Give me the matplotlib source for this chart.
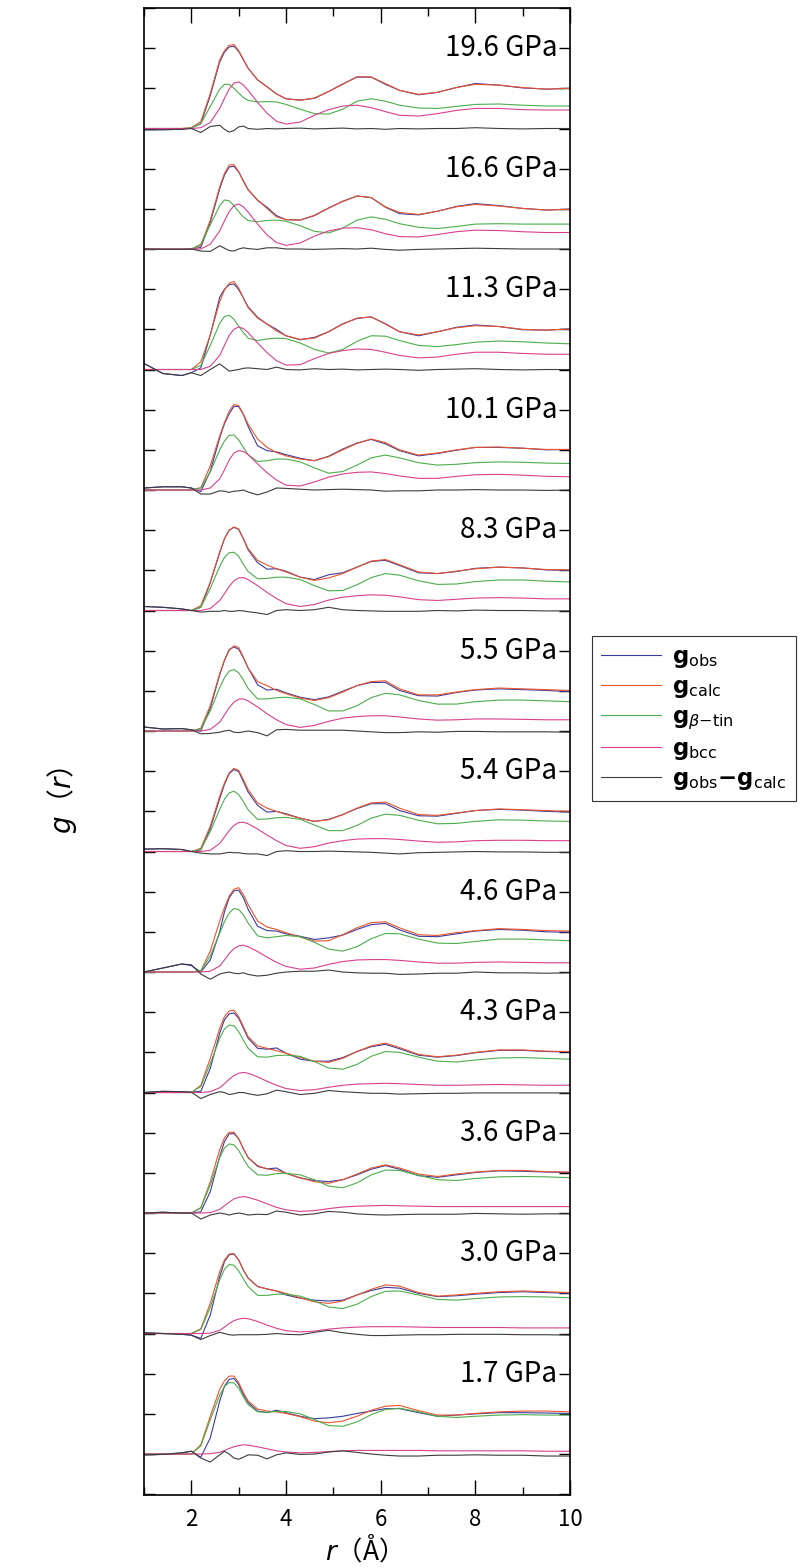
import matplotlib
matplotlib.use("Agg")
import matplotlib.pyplot as plt
from matplotlib.lines import Line2D
from matplotlib.ticker import MultipleLocator

plt.rcParams['font.family'] = ['Noto Sans CJK JP', 'DejaVu Sans']
plt.rcParams['mathtext.fontset'] = 'dejavusans'

# r grid (Å) shared by every curve
r = [1.0, 1.4, 1.8, 2.0, 2.2, 2.4, 2.6, 2.7, 2.8, 2.9, 3.0, 3.1, 3.2, 3.4, 3.6, 3.8, 4.0,
     4.3, 4.6, 4.9, 5.2, 5.5, 5.8, 6.1, 6.4, 6.8, 7.2, 7.6, 8.0, 8.5, 9.0, 9.5, 10.0]

# pressures, top panel first
pressures = ["19.6", "16.6", "11.3", "10.1", "8.3", "5.5", "5.4", "4.6", "4.3", "3.6", "3.0", "1.7"]

g_obs = [
    [-0.03, -0.03, -0.02, 0.02, 0.12, 0.82, 1.66, 1.90, 2.03, 2.05, 1.92, 1.71, 1.50, 1.21, 1.04, 0.86, 0.74, 0.71, 0.75, 0.92, 1.11, 1.28, 1.28, 1.10, 0.95, 0.84, 0.90, 1.02, 1.12, 1.08, 1.01, 0.98, 1.00],
    [0, -0.01, -0.01, 0, 0.04, 0.66, 1.50, 1.84, 2.04, 2.06, 1.92, 1.70, 1.48, 1.21, 1.04, 0.83, 0.73, 0.72, 0.83, 1.02, 1.19, 1.32, 1.28, 1.04, 0.88, 0.85, 0.94, 1.06, 1.13, 1.08, 1.01, 0.97, 0.99],
    [0.15, -0.10, -0.15, -0.08, 0.04, 0.86, 1.80, 2.00, 2.11, 2.13, 1.99, 1.78, 1.56, 1.30, 1.13, 1.00, 0.84, 0.74, 0.80, 0.94, 1.14, 1.27, 1.31, 1.14, 0.94, 0.84, 0.94, 1.05, 1.11, 1.07, 0.99, 0.98, 1.01],
    [0.05, 0.08, 0.08, 0.05, -0.04, 0.47, 1.30, 1.65, 1.90, 2.08, 2.08, 1.88, 1.58, 1.10, 0.98, 0.95, 0.88, 0.79, 0.73, 0.84, 1.02, 1.17, 1.26, 1.15, 0.98, 0.85, 0.91, 0.99, 1.06, 1.06, 1.04, 1.00, 1.01],
    [0.10, 0.08, 0.04, 0.0, 0.08, 0.69, 1.44, 1.79, 2.00, 2.07, 2.02, 1.78, 1.51, 1.19, 1.03, 1.04, 0.98, 0.83, 0.77, 0.89, 0.94, 1.08, 1.22, 1.25, 1.12, 0.94, 0.92, 0.97, 1.05, 1.08, 1.06, 1.01, 1.00],
    [0.10, 0.05, 0.06, 0.03, 0.0, 0.57, 1.40, 1.76, 2.03, 2.09, 2.04, 1.82, 1.57, 1.15, 1.02, 1.04, 0.95, 0.84, 0.78, 0.85, 0.99, 1.13, 1.21, 1.21, 1.01, 0.88, 0.87, 0.96, 1.02, 1.05, 1.03, 1.01, 0.98],
    [0.06, 0.07, 0.05, 0.0, 0.04, 0.57, 1.32, 1.67, 1.94, 2.04, 1.99, 1.74, 1.48, 1.15, 0.98, 1.00, 0.94, 0.83, 0.75, 0.80, 0.92, 1.07, 1.19, 1.19, 1.02, 0.89, 0.88, 0.95, 1.02, 1.05, 1.03, 1.00, 0.98],
    [0.0, 0.10, 0.20, 0.16, 0.0, 0.30, 1.00, 1.50, 1.85, 2.02, 2.04, 1.85, 1.56, 1.14, 1.03, 1.02, 0.95, 0.89, 0.81, 0.85, 0.92, 1.06, 1.18, 1.21, 1.05, 0.89, 0.88, 0.95, 1.02, 1.06, 1.04, 1.00, 0.99],
    [0.0, 0.03, 0.02, 0.01, 0.03, 0.60, 1.48, 1.81, 1.96, 1.98, 1.85, 1.60, 1.35, 1.10, 1.08, 1.11, 0.98, 0.83, 0.78, 0.78, 0.87, 1.02, 1.14, 1.20, 1.09, 0.93, 0.88, 0.92, 0.99, 1.05, 1.05, 1.02, 1.01],
    [0.0, 0.02, 0.0, 0.0, 0.03, 0.53, 1.41, 1.78, 1.97, 1.98, 1.85, 1.60, 1.38, 1.16, 1.10, 1.12, 0.99, 0.87, 0.81, 0.78, 0.83, 0.95, 1.09, 1.18, 1.09, 0.93, 0.89, 0.95, 1.01, 1.05, 1.04, 1.02, 1.01],
    [0.02, 0.0, -0.02, -0.04, -0.12, 0.46, 1.42, 1.79, 1.96, 1.98, 1.83, 1.58, 1.38, 1.17, 1.11, 1.06, 0.96, 0.88, 0.83, 0.81, 0.83, 0.96, 1.07, 1.15, 1.13, 1.00, 0.92, 0.94, 0.98, 1.02, 1.04, 1.02, 1.00],
    [-0.02, -0.01, 0.03, 0.07, -0.08, 0.40, 1.32, 1.69, 1.86, 1.88, 1.73, 1.48, 1.28, 1.07, 1.03, 1.09, 1.03, 0.94, 0.88, 0.90, 0.94, 1.01, 1.07, 1.13, 1.13, 1.03, 0.94, 0.97, 1.00, 1.03, 1.03, 1.02, 1.01],
]

g_calc = [
    [0, 0, 0, 0.02, 0.17, 0.87, 1.71, 1.94, 2.07, 2.09, 1.94, 1.72, 1.50, 1.21, 1.04, 0.86, 0.74, 0.70, 0.76, 0.92, 1.10, 1.29, 1.28, 1.12, 0.95, 0.85, 0.90, 1.02, 1.10, 1.08, 1.02, 0.98, 1.00],
    [0, 0, 0, 0, 0.09, 0.72, 1.55, 1.88, 2.09, 2.10, 1.93, 1.68, 1.47, 1.22, 1.01, 0.80, 0.73, 0.72, 0.84, 1.02, 1.18, 1.32, 1.28, 1.05, 0.91, 0.86, 0.94, 1.05, 1.11, 1.07, 1.01, 0.97, 0.99],
    [0, 0, 0, 0, 0.19, 0.86, 1.69, 1.98, 2.15, 2.19, 2.03, 1.78, 1.54, 1.28, 1.13, 0.96, 0.84, 0.75, 0.78, 0.94, 1.13, 1.28, 1.31, 1.13, 0.94, 0.86, 0.94, 1.04, 1.09, 1.07, 1.00, 0.98, 1.01],
    [0, 0, 0, 0, 0.06, 0.60, 1.35, 1.68, 1.96, 2.13, 2.10, 1.89, 1.64, 1.27, 1.06, 0.93, 0.85, 0.77, 0.73, 0.83, 1.00, 1.16, 1.27, 1.18, 1.00, 0.87, 0.92, 1.00, 1.06, 1.07, 1.04, 1.01, 1.01],
    [0, 0, 0, 0, 0.12, 0.71, 1.46, 1.79, 2.00, 2.08, 2.03, 1.79, 1.54, 1.25, 1.13, 1.04, 0.96, 0.83, 0.75, 0.81, 0.92, 1.08, 1.23, 1.27, 1.14, 0.96, 0.92, 0.98, 1.04, 1.08, 1.06, 1.02, 1.01],
    [0, 0, 0, 0, 0.07, 0.63, 1.43, 1.76, 2.01, 2.12, 2.08, 1.84, 1.57, 1.23, 1.13, 1.01, 0.93, 0.82, 0.76, 0.83, 0.97, 1.13, 1.23, 1.25, 1.05, 0.90, 0.90, 0.97, 1.03, 1.07, 1.05, 1.03, 1.01],
    [0, 0, 0, 0, 0.08, 0.63, 1.38, 1.71, 1.96, 2.07, 2.02, 1.79, 1.54, 1.21, 1.08, 1.00, 0.92, 0.83, 0.75, 0.79, 0.92, 1.08, 1.21, 1.23, 1.08, 0.92, 0.90, 0.96, 1.02, 1.06, 1.04, 1.02, 1.00],
    [0, 0, 0, 0, 0.03, 0.52, 1.27, 1.60, 1.89, 2.06, 2.10, 1.93, 1.68, 1.27, 1.12, 1.06, 0.98, 0.87, 0.77, 0.78, 0.93, 1.10, 1.23, 1.25, 1.10, 0.93, 0.91, 0.98, 1.03, 1.08, 1.06, 1.03, 1.02],
    [0, 0, 0, 0, 0.18, 0.85, 1.60, 1.89, 2.03, 2.05, 1.89, 1.64, 1.39, 1.16, 1.10, 1.04, 0.98, 0.87, 0.78, 0.75, 0.85, 1.02, 1.16, 1.23, 1.12, 0.95, 0.89, 0.93, 1.00, 1.06, 1.06, 1.03, 1.02],
    [0, 0, 0, 0, 0.13, 0.78, 1.58, 1.87, 2.01, 2.01, 1.85, 1.60, 1.38, 1.18, 1.10, 1.06, 0.99, 0.88, 0.78, 0.74, 0.83, 0.97, 1.12, 1.20, 1.12, 0.97, 0.91, 0.97, 1.02, 1.06, 1.06, 1.03, 1.02],
    [0, 0, 0, 0, 0.12, 0.75, 1.54, 1.83, 1.98, 1.99, 1.83, 1.58, 1.38, 1.17, 1.11, 1.06, 1.00, 0.89, 0.79, 0.75, 0.81, 0.96, 1.10, 1.21, 1.18, 1.02, 0.93, 0.96, 1.00, 1.04, 1.06, 1.04, 1.02],
    [0, 0, 0, 0, 0.23, 0.94, 1.61, 1.82, 1.94, 1.94, 1.78, 1.53, 1.32, 1.12, 1.07, 1.05, 1.01, 0.93, 0.82, 0.78, 0.82, 0.94, 1.09, 1.19, 1.21, 1.08, 0.97, 0.97, 1.01, 1.05, 1.07, 1.07, 1.05],
]

g_btin = [
    [0, 0, 0, 0.01, 0.12, 0.55, 0.98, 1.10, 1.10, 1.00, 0.88, 0.77, 0.70, 0.66, 0.67, 0.66, 0.60, 0.48, 0.37, 0.36, 0.48, 0.68, 0.74, 0.68, 0.58, 0.51, 0.50, 0.55, 0.60, 0.61, 0.58, 0.56, 0.56],
    [0, 0, 0, 0, 0.12, 0.60, 1.08, 1.22, 1.20, 1.08, 0.93, 0.80, 0.71, 0.68, 0.71, 0.72, 0.69, 0.58, 0.44, 0.40, 0.52, 0.72, 0.80, 0.74, 0.63, 0.54, 0.51, 0.56, 0.62, 0.63, 0.62, 0.62, 0.62],
    [0, 0, 0, 0, 0.10, 0.60, 1.15, 1.32, 1.35, 1.25, 1.08, 0.92, 0.78, 0.72, 0.76, 0.78, 0.77, 0.66, 0.50, 0.41, 0.50, 0.70, 0.84, 0.83, 0.72, 0.60, 0.57, 0.62, 0.68, 0.71, 0.69, 0.66, 0.64],
    [0, 0, 0, 0, 0.05, 0.45, 1.00, 1.22, 1.36, 1.37, 1.25, 1.06, 0.88, 0.71, 0.73, 0.77, 0.77, 0.70, 0.55, 0.42, 0.46, 0.62, 0.80, 0.87, 0.80, 0.68, 0.62, 0.64, 0.68, 0.70, 0.69, 0.67, 0.66],
    [0, 0, 0, 0, 0.08, 0.55, 1.10, 1.32, 1.44, 1.45, 1.35, 1.15, 0.97, 0.79, 0.80, 0.83, 0.83, 0.77, 0.62, 0.49, 0.50, 0.64, 0.82, 0.92, 0.88, 0.74, 0.65, 0.66, 0.72, 0.76, 0.76, 0.73, 0.71],
    [0, 0, 0, 0, 0.05, 0.50, 1.08, 1.33, 1.49, 1.53, 1.45, 1.27, 1.06, 0.80, 0.80, 0.83, 0.84, 0.80, 0.66, 0.50, 0.50, 0.63, 0.83, 0.94, 0.90, 0.76, 0.67, 0.67, 0.73, 0.77, 0.77, 0.75, 0.73],
    [0, 0, 0, 0, 0.05, 0.50, 1.05, 1.30, 1.46, 1.50, 1.42, 1.24, 1.04, 0.80, 0.81, 0.84, 0.85, 0.80, 0.66, 0.52, 0.52, 0.65, 0.83, 0.93, 0.90, 0.78, 0.69, 0.70, 0.75, 0.79, 0.78, 0.76, 0.75],
    [0, 0, 0, 0, 0.03, 0.40, 0.97, 1.25, 1.47, 1.58, 1.56, 1.42, 1.22, 0.90, 0.85, 0.88, 0.91, 0.88, 0.74, 0.57, 0.52, 0.63, 0.83, 0.96, 0.95, 0.82, 0.72, 0.71, 0.76, 0.82, 0.82, 0.80, 0.78],
    [0, 0, 0, 0, 0.15, 0.72, 1.35, 1.58, 1.68, 1.66, 1.52, 1.30, 1.10, 0.89, 0.88, 0.92, 0.93, 0.90, 0.77, 0.61, 0.58, 0.70, 0.90, 1.02, 1.00, 0.88, 0.78, 0.76, 0.81, 0.86, 0.87, 0.85, 0.83],
    [0, 0, 0, 0, 0.13, 0.70, 1.38, 1.62, 1.72, 1.70, 1.56, 1.35, 1.16, 0.95, 0.94, 0.98, 0.99, 0.95, 0.83, 0.67, 0.63, 0.75, 0.95, 1.07, 1.06, 0.94, 0.83, 0.81, 0.86, 0.90, 0.91, 0.90, 0.88],
    [0, 0, 0, 0, 0.10, 0.65, 1.34, 1.60, 1.72, 1.70, 1.56, 1.36, 1.17, 0.95, 0.95, 0.98, 0.98, 0.93, 0.81, 0.66, 0.62, 0.73, 0.92, 1.05, 1.06, 0.96, 0.85, 0.83, 0.87, 0.91, 0.92, 0.91, 0.89],
    [0, 0, 0, 0, 0.20, 0.85, 1.47, 1.68, 1.78, 1.77, 1.64, 1.42, 1.23, 1.05, 1.04, 1.06, 1.06, 1.00, 0.86, 0.71, 0.69, 0.80, 0.98, 1.11, 1.14, 1.05, 0.94, 0.91, 0.94, 0.97, 0.98, 0.97, 0.97],
]

g_bcc = [
    [0, 0, 0, 0, 0.02, 0.15, 0.50, 0.75, 0.98, 1.13, 1.16, 1.08, 0.95, 0.65, 0.38, 0.18, 0.11, 0.16, 0.33, 0.47, 0.56, 0.58, 0.52, 0.42, 0.33, 0.31, 0.37, 0.45, 0.50, 0.50, 0.47, 0.46, 0.46],
    [0, 0, 0, 0, 0, 0.12, 0.45, 0.70, 0.93, 1.08, 1.12, 1.05, 0.92, 0.62, 0.35, 0.16, 0.09, 0.15, 0.32, 0.45, 0.52, 0.53, 0.48, 0.38, 0.31, 0.30, 0.36, 0.43, 0.47, 0.46, 0.43, 0.41, 0.41],
    [0, 0, 0, 0, 0, 0.08, 0.35, 0.60, 0.85, 1.00, 1.06, 1.02, 0.92, 0.66, 0.42, 0.22, 0.11, 0.12, 0.27, 0.40, 0.47, 0.51, 0.50, 0.43, 0.35, 0.29, 0.31, 0.38, 0.43, 0.43, 0.40, 0.38, 0.38],
    [0, 0, 0, 0, 0, 0.05, 0.28, 0.50, 0.75, 0.92, 0.98, 0.96, 0.88, 0.65, 0.43, 0.25, 0.12, 0.10, 0.20, 0.32, 0.40, 0.44, 0.45, 0.41, 0.35, 0.29, 0.29, 0.34, 0.38, 0.39, 0.37, 0.34, 0.33],
    [0, 0, 0, 0, 0, 0.05, 0.25, 0.42, 0.60, 0.74, 0.81, 0.82, 0.77, 0.62, 0.45, 0.30, 0.17, 0.10, 0.15, 0.26, 0.33, 0.37, 0.39, 0.38, 0.34, 0.27, 0.25, 0.28, 0.31, 0.32, 0.31, 0.29, 0.29],
    [0, 0, 0, 0, 0, 0.04, 0.22, 0.40, 0.58, 0.72, 0.79, 0.80, 0.75, 0.60, 0.43, 0.28, 0.16, 0.09, 0.14, 0.24, 0.32, 0.36, 0.38, 0.38, 0.35, 0.30, 0.27, 0.28, 0.30, 0.30, 0.29, 0.28, 0.28],
    [0, 0, 0, 0, 0, 0.03, 0.20, 0.36, 0.52, 0.65, 0.72, 0.73, 0.69, 0.56, 0.41, 0.27, 0.15, 0.08, 0.12, 0.21, 0.27, 0.31, 0.32, 0.32, 0.30, 0.26, 0.23, 0.24, 0.27, 0.28, 0.28, 0.27, 0.27],
    [0, 0, 0, 0, 0, 0.02, 0.15, 0.30, 0.46, 0.58, 0.65, 0.67, 0.63, 0.51, 0.37, 0.24, 0.14, 0.07, 0.10, 0.19, 0.26, 0.30, 0.31, 0.31, 0.29, 0.25, 0.22, 0.22, 0.24, 0.25, 0.24, 0.23, 0.23],
    [0, 0, 0, 0, 0, 0.02, 0.12, 0.22, 0.33, 0.42, 0.48, 0.50, 0.48, 0.39, 0.28, 0.18, 0.10, 0.05, 0.07, 0.13, 0.18, 0.21, 0.22, 0.23, 0.22, 0.20, 0.18, 0.18, 0.19, 0.20, 0.19, 0.18, 0.18],
    [0, 0, 0, 0, 0, 0.01, 0.09, 0.18, 0.27, 0.35, 0.39, 0.41, 0.39, 0.32, 0.23, 0.14, 0.08, 0.04, 0.06, 0.11, 0.15, 0.17, 0.18, 0.19, 0.18, 0.17, 0.16, 0.16, 0.16, 0.16, 0.16, 0.16, 0.16],
    [0, 0, 0, 0, 0, 0.01, 0.08, 0.16, 0.25, 0.32, 0.36, 0.38, 0.37, 0.30, 0.21, 0.13, 0.07, 0.04, 0.06, 0.11, 0.14, 0.16, 0.17, 0.17, 0.17, 0.16, 0.15, 0.15, 0.15, 0.15, 0.14, 0.14, 0.14],
    [0, 0, 0, 0, 0, 0.01, 0.04, 0.09, 0.14, 0.18, 0.21, 0.23, 0.22, 0.18, 0.13, 0.08, 0.05, 0.03, 0.04, 0.06, 0.08, 0.09, 0.09, 0.09, 0.09, 0.09, 0.08, 0.08, 0.08, 0.08, 0.08, 0.07, 0.07],
]

g_diff = [
    [-0.03, -0.03, -0.02, 0.0, -0.10, 0.05, 0.08, -0.02, -0.09, -0.05, 0.04, 0.06, 0.0, -0.02, 0.0, -0.01, 0.0, 0.01, -0.01, 0.0, 0.01, -0.01, 0.0, -0.02, 0.0, -0.01, 0.0, 0.0, 0.02, 0.0, -0.01, 0.0, 0.0],
    [0, -0.01, -0.01, 0, -0.05, -0.06, 0.08, 0.02, -0.04, -0.05, 0, 0.03, 0.01, -0.01, 0.03, 0.03, 0, 0, -0.01, 0, 0.01, 0, 0.02, -0.01, -0.03, -0.01, 0, 0.01, 0.02, 0.01, 0, 0, 0],
    [0.15, -0.10, -0.15, -0.08, -0.15, 0.0, 0.14, 0.05, -0.04, -0.02, 0, 0.03, 0.04, 0.02, 0, 0.06, 0, -0.01, 0.02, 0, 0.01, -0.01, 0, 0.01, 0, -0.02, 0, 0.01, 0.02, 0, -0.01, 0, 0],
    [0.05, 0.08, 0.08, 0.05, -0.10, -0.10, -0.02, -0.03, -0.06, -0.03, -0.02, 0, -0.05, -0.12, -0.05, 0.05, 0.04, 0.02, 0, 0.01, 0.02, 0.01, 0, -0.03, -0.02, -0.02, 0, 0, 0.01, 0, 0, -0.01, 0],
    [0.10, 0.08, 0.04, 0, -0.04, -0.02, -0.02, 0, -0.02, -0.02, 0, -0.01, -0.03, -0.06, -0.10, 0, 0.02, 0, 0.02, 0.08, 0.02, 0, -0.01, -0.02, -0.02, -0.02, 0, -0.01, 0.01, 0, 0, -0.01, -0.01],
    [0.10, 0.05, 0.06, 0.03, -0.07, -0.06, -0.03, 0, 0.02, -0.03, -0.04, -0.02, 0, -0.04, -0.12, 0.03, 0.04, 0.02, 0.02, 0.02, 0.02, 0, -0.02, -0.04, -0.04, -0.02, -0.03, -0.01, -0.01, -0.02, -0.02, -0.02, -0.03],
    [0.06, 0.07, 0.05, 0, -0.04, -0.06, -0.06, -0.04, -0.02, -0.03, -0.03, -0.05, -0.06, -0.06, -0.10, 0, 0.02, 0, 0, 0.01, 0, -0.01, -0.02, -0.04, -0.06, -0.03, -0.02, -0.01, 0, -0.01, -0.01, -0.02, -0.02],
    [0.0, 0.10, 0.20, 0.18, -0.05, -0.18, -0.05, -0.02, 0, -0.03, -0.04, -0.02, -0.06, -0.10, -0.08, -0.03, 0, 0.02, 0.02, 0.05, 0, -0.02, -0.03, -0.03, -0.06, -0.05, -0.03, -0.03, 0, -0.02, -0.02, -0.03, -0.02],
    [0.0, 0.03, 0.02, 0.01, -0.15, -0.05, 0.02, 0, -0.05, -0.03, 0, 0, -0.03, -0.07, -0.03, 0.06, 0.02, -0.05, -0.02, 0.05, 0.02, 0, -0.02, -0.02, -0.04, -0.03, -0.02, -0.02, -0.01, -0.01, -0.01, -0.01, -0.01],
    [0.0, 0.02, 0.0, 0.0, -0.15, -0.05, 0, -0.02, -0.05, -0.02, 0, -0.02, -0.05, -0.03, -0.04, 0.05, 0.02, -0.05, -0.02, 0.04, 0.02, -0.02, -0.04, -0.05, -0.04, -0.03, -0.03, -0.03, -0.01, -0.02, -0.03, -0.02, -0.02],
    [0.02, 0.0, -0.02, -0.04, -0.15, -0.05, 0.03, 0, -0.03, -0.04, -0.03, -0.03, -0.03, -0.03, -0.02, 0, -0.02, -0.03, 0.03, 0.08, 0.02, -0.02, -0.05, -0.05, -0.04, -0.03, -0.03, -0.02, -0.02, -0.02, -0.03, -0.03, -0.04],
    [-0.02, -0.01, 0.03, 0.07, -0.10, -0.20, -0.02, 0.07, 0.0, -0.10, -0.13, -0.08, -0.02, -0.03, -0.12, -0.02, 0.03, -0.01, 0.0, 0.05, 0.08, 0.04, 0.0, -0.03, -0.05, -0.05, -0.03, -0.03, -0.02, -0.03, -0.03, -0.05, -0.05],
]

colors = {"obs": "#3b3b9e", "calc": "#e8552e", "btin": "#4cae4c", "bcc": "#d9408c", "diff": "#3c3c3c"}

fig = plt.figure(figsize=(8.04, 15.68), dpi=100)
ax = fig.add_axes([144 / 804, 1 - 1495 / 1568, (570 - 144) / 804, (1495 - 8) / 1568])

n = len(pressures)
for i, p in enumerate(pressures):
    off = 3 * (n - 1 - i)
    ax.plot(r, [v + off for v in g_obs[i]], color=colors["obs"], lw=0.8)
    ax.plot(r, [v + off for v in g_calc[i]], color=colors["calc"], lw=0.8)
    ax.plot(r, [v + off for v in g_btin[i]], color=colors["btin"], lw=0.8)
    ax.plot(r, [v + off for v in g_bcc[i]], color=colors["bcc"], lw=0.8)
    ax.plot(r, [v + off for v in g_diff[i]], color=colors["diff"], lw=0.8)
    ax.text(9.73, off + 2.0, p + " GPa", ha="right", va="center", fontsize=20)

ax.set_xlim(1, 10)
ax.set_ylim(-1.02, 36)
ax.xaxis.set_major_locator(MultipleLocator(2))
ax.xaxis.set_minor_locator(MultipleLocator(1))
ax.yaxis.set_major_locator(MultipleLocator(1))
ax.set_yticklabels([])
ax.tick_params(axis="x", which="major", direction="in", length=11, width=1, top=True,
               labelsize=16, pad=9)
ax.tick_params(axis="x", which="minor", direction="in", length=6, width=1, top=True)
ax.tick_params(axis="y", which="major", direction="in", length=8, width=1, right=True)
for s in ax.spines.values():
    s.set_linewidth(1.2)

fig.text(357 / 804, 1 - 1550 / 1568, "$r$（Å）", ha="center", va="center", fontsize=19)
fig.text(62 / 804, 1 - 800 / 1568, "$g$（$r$）", rotation=90, ha="center", va="center", fontsize=20)

handles = [Line2D([], [], color=colors[k], lw=0.8) for k in ["obs", "calc", "btin", "bcc", "diff"]]
labels = [r"$\mathbf{g}_{\mathrm{obs}}$", r"$\mathbf{g}_{\mathrm{calc}}$",
          r"$\mathbf{g}_{\beta\mathrm{-tin}}$", r"$\mathbf{g}_{\mathrm{bcc}}$",
          r"$\mathbf{g}_{\mathrm{obs}}\mathbf{-g}_{\mathrm{calc}}$"]
leg = fig.legend(handles, labels, loc="upper left", bbox_to_anchor=(592 / 804, 1 - 636 / 1568),
                 fontsize=16.5, frameon=True, fancybox=False, edgecolor="black",
                 handlelength=2.6, handletextpad=0.5, labelspacing=0.22, borderpad=0.4,
                 borderaxespad=0.0)
leg.get_frame().set_linewidth(0.8)

fig.savefig("out.png", dpi=100)
